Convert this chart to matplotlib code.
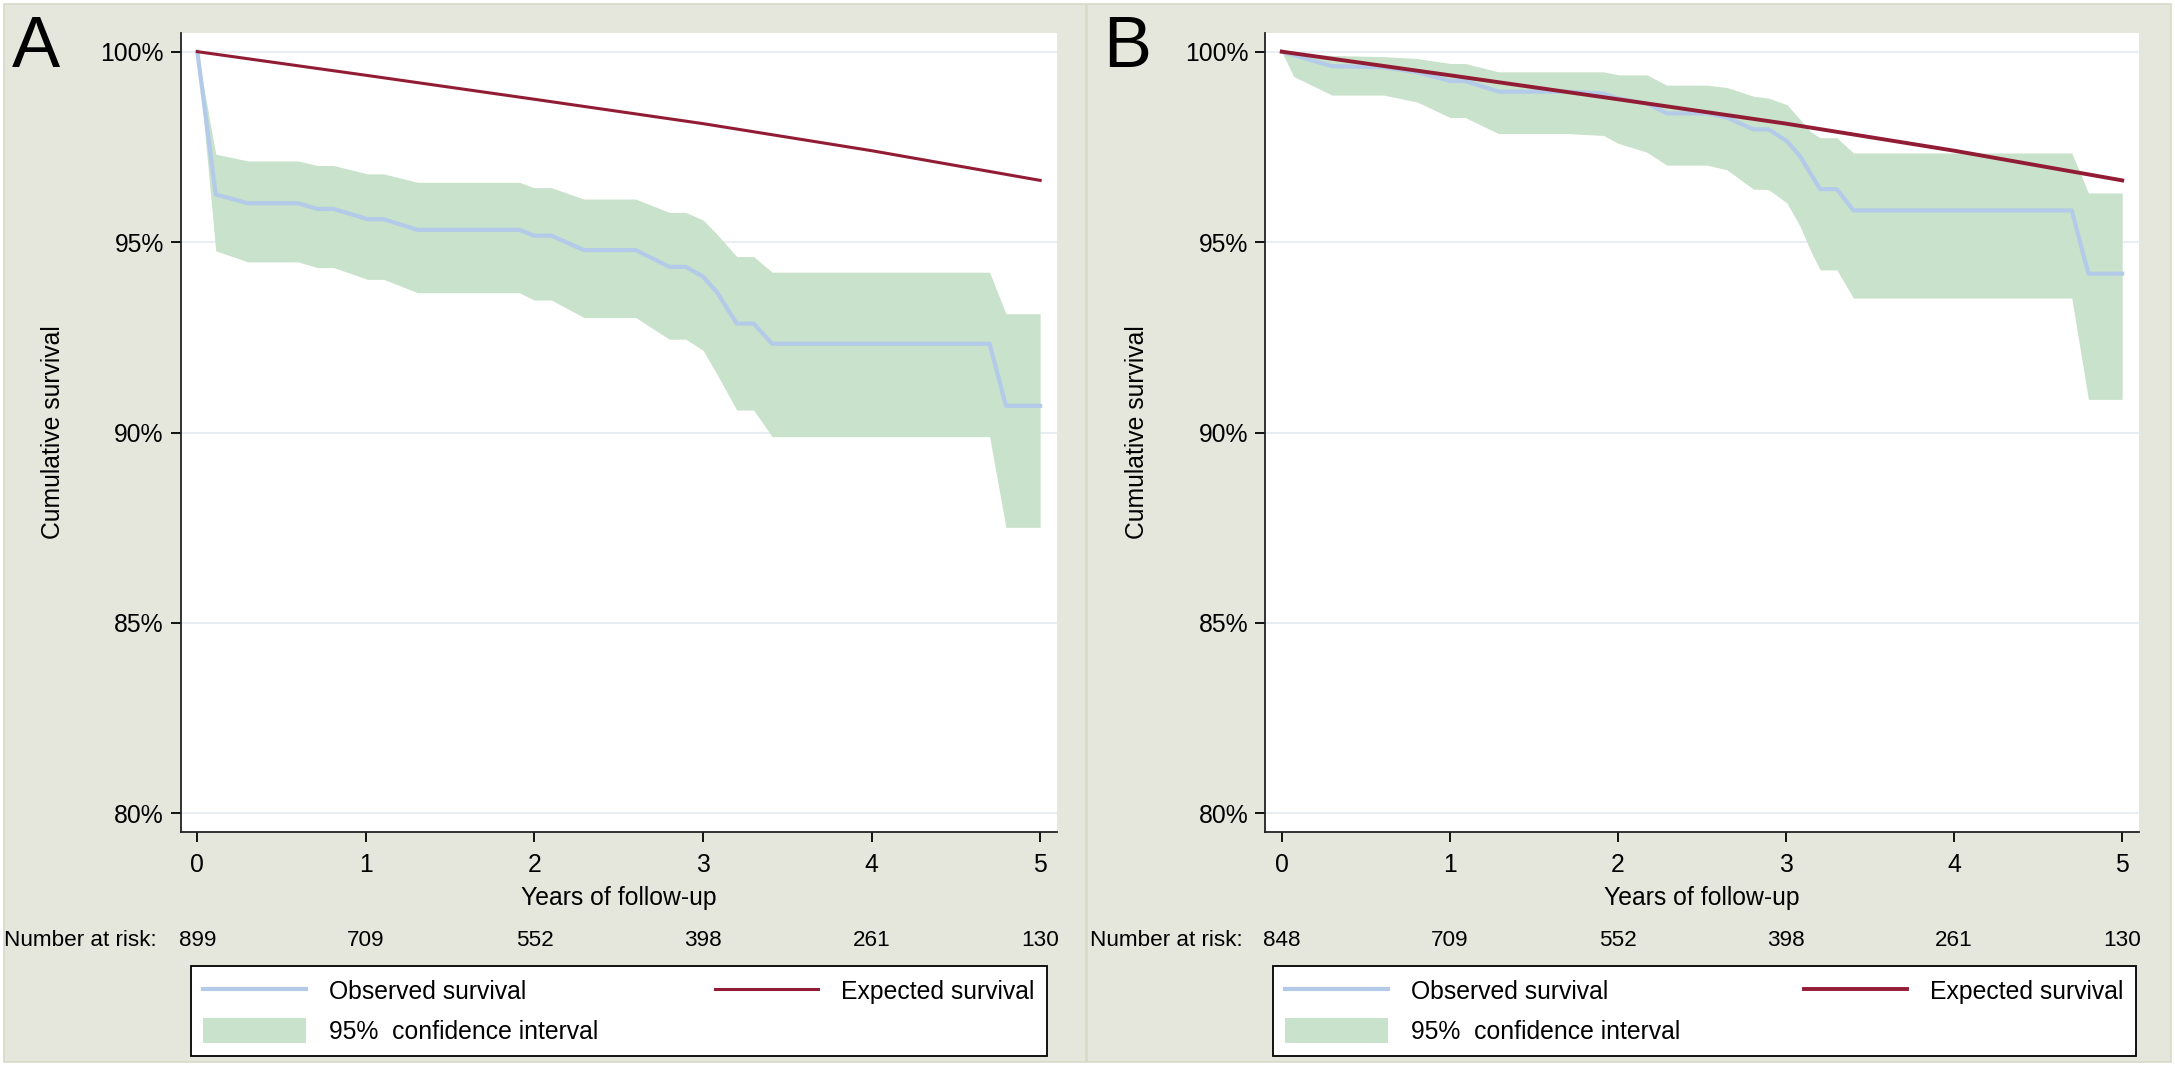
import matplotlib
matplotlib.use("Agg")
import matplotlib.pyplot as plt
from matplotlib.patches import Rectangle, Patch
from matplotlib.lines import Line2D

plt.rcParams['font.family'] = ['Liberation Sans', 'DejaVu Sans']

# ---- panel A: Kaplan-Meier estimate ----
a_years = [0, 0.109, 0.30, 0.597, 0.713, 0.809, 1.01, 1.106, 1.307, 1.911, 1.996, 2.10,
           2.293, 2.60, 2.80, 2.897, 3.0, 3.08, 3.2, 3.3, 3.41, 4.70, 4.797, 5.0]
a_obs = [100, 96.25, 96.02, 96.02, 95.87, 95.87, 95.60, 95.60, 95.32, 95.32, 95.17, 95.17,
         94.79, 94.79, 94.35, 94.35, 94.09, 93.70, 92.86, 92.86, 92.33, 92.33, 90.70, 90.70]
a_upper = [100, 97.31, 97.13, 97.13, 97.01, 97.01, 96.79, 96.79, 96.57, 96.57, 96.43, 96.43,
           96.13, 96.13, 95.78, 95.78, 95.58, 95.22, 94.62, 94.62, 94.21, 94.21, 93.12, 93.12]
a_lower = [100, 94.77, 94.48, 94.48, 94.33, 94.33, 94.02, 94.02, 93.67, 93.67, 93.48, 93.48,
           93.02, 93.02, 92.45, 92.45, 92.16, 91.55, 90.59, 90.59, 89.89, 89.89, 87.51, 87.51]
a_at_risk = [899, 709, 552, 398, 261, 130]

# ---- panel B ----
b_years = [0, 0.07, 0.298, 0.605, 0.804, 1.002, 1.091, 1.289, 1.696, 1.914, 2.003, 2.172, 2.291,
           2.529, 2.648, 2.806, 2.895, 3.005, 3.084, 3.143, 3.203, 3.302, 3.401, 4.70, 4.799, 5.0]
b_obs = [100, 99.91, 99.62, 99.59, 99.46, 99.23, 99.23, 98.95, 98.95, 98.90, 98.77, 98.64, 98.38,
         98.38, 98.27, 97.96, 97.96, 97.65, 97.25, 96.82, 96.39, 96.39, 95.83, 95.83, 94.17, 94.17]
b_upper = [100, 99.95, 99.90, 99.87, 99.82, 99.69, 99.69, 99.47, 99.47, 99.47, 99.39, 99.39, 99.12,
           99.12, 99.06, 98.83, 98.78, 98.61, 98.22, 97.91, 97.74, 97.74, 97.34, 97.34, 96.29, 96.29]
b_lower = [100, 99.35, 98.86, 98.86, 98.68, 98.27, 98.27, 97.85, 97.85, 97.80, 97.59, 97.36, 97.02,
           97.02, 96.90, 96.39, 96.38, 96.03, 95.41, 94.80, 94.27, 94.27, 93.53, 93.53, 90.87, 90.87]
b_at_risk = [848, 709, 552, 398, 261, 130]

# expected survival of the general population
exp_years = [0, 1, 2, 3, 4, 5]
a_expected = [100, 99.38, 98.75, 98.11, 97.40, 96.62]
b_expected = [100, 99.38, 98.75, 98.11, 97.40, 96.62]

x_ticks = [0, 1, 2, 3, 4, 5]
y_ticks = [80, 85, 90, 95, 100]

BG = '#e5e7dd'
OBS_C = '#b3cbe9'
EXP_C = '#921c34'
CI_C = '#c9e2cb'
GRID_C = '#e8eef1'
FS = 17.8
RISK_FS = 16.2
W, H = 2175, 1072


def draw_panel(fig, rect, years, obs, lower, upper, expected, at_risk, letter,
               letter_x, risk_x, legend_box, exp_lw):
    ax = fig.add_axes(rect, zorder=2)
    ax.set_facecolor('white')
    ax.fill_between(years, lower, upper, color=CI_C, lw=0, zorder=2)
    ax.plot(years, obs, color=OBS_C, lw=3.0, zorder=3)
    ax.plot(exp_years, expected, color=EXP_C, lw=exp_lw, zorder=4)

    ax.set_xlim(-0.1, 5.1)
    ax.set_ylim(79.51, 100.49)
    ax.set_xticks(x_ticks)
    ax.set_yticks(y_ticks)
    ax.set_yticklabels([f'{v}%' for v in y_ticks])
    ax.grid(axis='y', color=GRID_C, lw=1.5, zorder=1)
    ax.set_axisbelow(True)
    for s in ['top', 'right']:
        ax.spines[s].set_visible(False)
    for s in ['left', 'bottom']:
        ax.spines[s].set_linewidth(1.3)
        ax.spines[s].set_color('#222222')
    ax.tick_params(axis='y', direction='out', length=7, width=1.3, labelsize=FS, pad=5)
    ax.tick_params(axis='x', direction='out', length=7, width=1.3, labelsize=FS, pad=8)

    ax.set_ylabel('Cumulative survival', fontsize=FS)
    ax.yaxis.label.set_va('center')
    ax.yaxis.set_label_coords(-0.146, 0.5)
    ax.set_xlabel('Years of follow-up', fontsize=FS)
    ax.xaxis.label.set_va('center')
    ax.xaxis.set_label_coords(0.5, -0.082)

    # number at risk row
    ax.text(risk_x, -0.136, 'Number at risk:', transform=ax.transAxes,
            ha='left', va='center', fontsize=RISK_FS)
    tr = ax.get_xaxis_transform()
    for yr, n in zip(x_ticks, at_risk):
        ax.text(yr, -0.136, str(n), transform=tr, ha='center', va='center', fontsize=RISK_FS)

    fig.text(letter_x, 1 - 67 / H, letter, fontsize=52, va='baseline', ha='left', zorder=3)

    handles = [Line2D([], [], color=OBS_C, lw=3.0),
               Patch(facecolor=CI_C, edgecolor='none'),
               Line2D([], [], color=EXP_C, lw=exp_lw)]
    labels = ['Observed survival', '95%  confidence interval', 'Expected survival']
    leg = ax.legend(handles, labels, ncol=2, mode='expand', loc='upper left',
                    bbox_to_anchor=legend_box, bbox_transform=fig.transFigure,
                    borderaxespad=0, fontsize=FS, handlelength=4.15, handleheight=1.2,
                    handletextpad=0.95, labelspacing=0.55, borderpad=0.5,
                    fancybox=False, framealpha=1, edgecolor='black')
    leg.get_frame().set_linewidth(1.3)
    return ax


fig = plt.figure(figsize=(W / 100, H / 100), dpi=100, facecolor='white')

# panel backgrounds, kept behind the axes
fig.patches.append(Rectangle((4 / W, 1 - 1062 / H), 1082 / W, 1058 / H, transform=fig.transFigure,
                             facecolor=BG, edgecolor='#d8dac8', lw=1.2, zorder=-10))
fig.patches.append(Rectangle((1087 / W, 1 - 1062 / H), 1084 / W, 1058 / H, transform=fig.transFigure,
                             facecolor=BG, edgecolor='#d8dac8', lw=1.2, zorder=-10))

leg_top = 1 - 966 / H
draw_panel(fig, [180.5 / W, 1 - 832 / H, 876.5 / W, 799 / H],
           a_years, a_obs, a_lower, a_upper, a_expected, a_at_risk, 'A',
           12 / W, -0.2014, (191 / W, leg_top - 0.01, 856 / W, 0.01), 2.2)
draw_panel(fig, [1265 / W, 1 - 832 / H, 874 / W, 799 / H],
           b_years, b_obs, b_lower, b_upper, b_expected, b_at_risk, 'B',
           1103 / W, -0.2, (1273 / W, leg_top - 0.01, 863 / W, 0.01), 2.8)

fig.savefig('out.png', dpi=100, facecolor=fig.get_facecolor())
